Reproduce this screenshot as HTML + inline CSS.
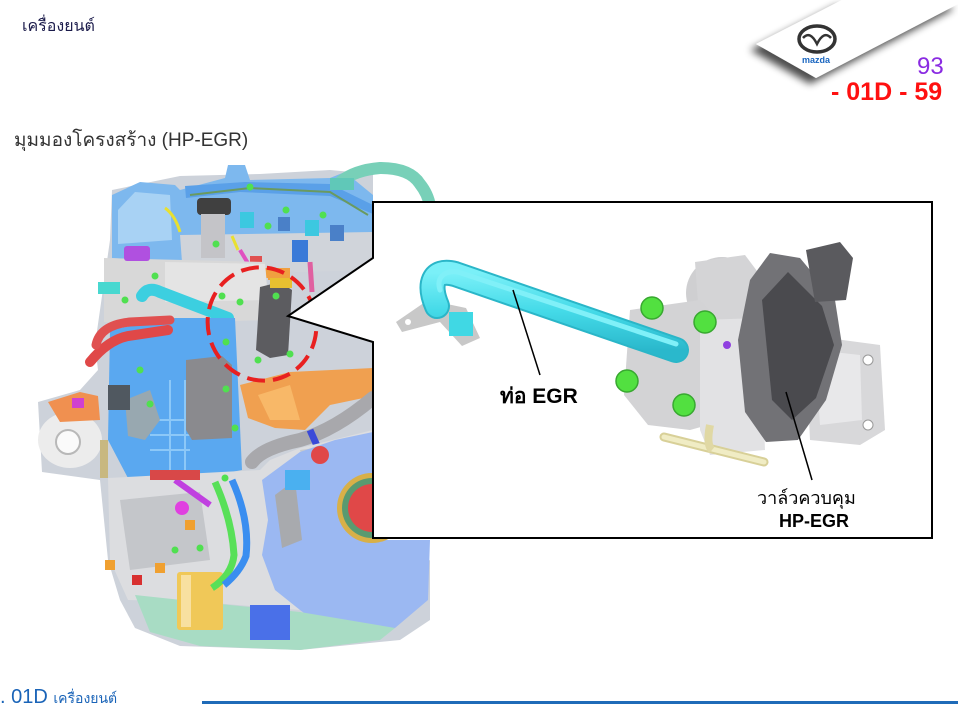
<!DOCTYPE html>
<html><head><meta charset="utf-8">
<style>
html,body{margin:0;padding:0;background:#fff;}
body{width:958px;height:720px;position:relative;overflow:hidden;font-family:"Liberation Sans","DejaVu Sans",sans-serif;}
.t{position:absolute;white-space:nowrap;}
</style></head><body>
<svg width="958" height="720" viewBox="0 0 958 720" xmlns="http://www.w3.org/2000/svg" style="position:absolute;left:0;top:0">
<defs>
<filter id="sh" x="-30%" y="-30%" width="160%" height="180%">
<feGaussianBlur in="SourceAlpha" stdDeviation="4"/>
<feOffset dx="-6" dy="6" result="b"/>
<feComponentTransfer><feFuncA type="linear" slope="0.7"/></feComponentTransfer>
<feMerge><feMergeNode/><feMergeNode in="SourceGraphic"/></feMerge>
</filter>
<linearGradient id="pipeG" x1="0" y1="0" x2="0" y2="1">
<stop offset="0" stop-color="#7af0f8"/><stop offset="0.5" stop-color="#44dae8"/><stop offset="1" stop-color="#2ab8cc"/>
</linearGradient>
</defs>

<!-- Mazda tab -->
<polygon points="756,44 842,0 958,0 958,4 816,78" fill="#fff" filter="url(#sh)"/>
<ellipse cx="817" cy="39" rx="18" ry="13" fill="none" stroke="#333" stroke-width="3.5"/>
<path d="M803 38 Q810 30 817 44 Q824 30 831 38" fill="none" stroke="#333" stroke-width="2.5"/>
<text x="816" y="63" font-size="9" font-weight="bold" fill="#1a66c0" text-anchor="middle" font-family="Liberation Sans,sans-serif">mazda</text>

<!-- ENGINE -->
<g>
<polygon points="112,190 180,176 260,174 330,170 373,174 373,600 430,560 430,620 400,640 300,650 180,646 135,628 120,600 108,560 100,480 42,472 38,402 80,390 98,370 95,345 104,282 110,240" fill="#cdd2da"/>
<!-- top blue area -->
<polygon points="112,195 140,182 175,185 180,190 225,178 228,165 245,165 250,180 330,178 345,172 373,195 373,250 180,262 112,258" fill="#7db8ee"/>
<polygon points="118,210 135,192 170,195 172,240 118,244" fill="#a8d2f4"/>
<polygon points="185,186 245,182 330,184 373,205 373,214 330,196 240,192 186,198" fill="#5aa0e8"/>
<path d="M190 195 L250 188 L330 192 L368 215" stroke="#6a9a60" stroke-width="2" fill="none"/>
<polygon points="180,235 373,232 373,270 300,272 240,268 182,262" fill="#d0d4da"/>
<rect x="197" y="198" width="34" height="17" rx="4" fill="#404040"/>
<rect x="201" y="214" width="24" height="44" fill="#c4c4c8"/>
<rect x="240" y="212" width="14" height="16" fill="#3cc8e0"/>
<rect x="278" y="217" width="12" height="14" fill="#4a80c8"/>
<rect x="305" y="220" width="14" height="16" fill="#3cc8e0"/>
<rect x="330" y="225" width="14" height="16" fill="#4a80c8"/>
<rect x="292" y="240" width="16" height="22" fill="#3a7ad8"/>
<path d="M165 208 Q175 215 180 232" stroke="#e8e030" stroke-width="3" fill="none"/>
<path d="M232 236 L238 250" stroke="#e8e030" stroke-width="3" fill="none"/>
<path d="M240 250 L252 270" stroke="#e050c0" stroke-width="4"/>
<path d="M310 262 L312 292" stroke="#e060a0" stroke-width="5"/>
<rect x="250" y="256" width="12" height="10" fill="#e05050"/>
<rect x="268" y="268" width="22" height="12" fill="#f0a040"/>
<rect x="258" y="268" width="10" height="10" fill="#f0a040"/>
<!-- valve cover -->
<polygon points="104,258 265,262 270,320 200,322 140,326 104,322" fill="#d8d8d8"/>
<polygon points="165,262 265,264 268,300 165,302" fill="#e4e4e4"/>
<rect x="124" y="246" width="26" height="15" rx="3" fill="#b050e0"/>
<rect x="98" y="282" width="22" height="12" fill="#48d8d0"/>
<!-- cyan pipe -->
<path d="M142 296 Q148 286 160 292 L228 318" stroke="#3ccfe0" stroke-width="12" fill="none" stroke-linecap="round"/>
<!-- blue body -->
<polygon points="110,330 175,318 235,318 242,470 200,478 130,482 108,440" fill="#5aa8f0"/>
<g stroke="#8cc8f8" stroke-width="2">
<line x1="150" y1="420" x2="190" y2="420"/><line x1="150" y1="435" x2="190" y2="435"/><line x1="150" y1="450" x2="190" y2="450"/>
<line x1="185" y1="380" x2="185" y2="470"/><line x1="170" y1="380" x2="170" y2="470"/>
</g>
<polygon points="125,400 150,390 160,420 145,440 128,436" fill="#98a8b0"/>
<rect x="108" y="385" width="22" height="25" fill="#505860"/>
<!-- red hoses -->
<path d="M90 362 Q108 340 128 336 L168 330" stroke="#e04848" stroke-width="10" fill="none" stroke-linecap="round"/>
<path d="M96 345 Q100 325 130 322 L170 320" stroke="#e05050" stroke-width="9" fill="none" stroke-linecap="round"/>
<!-- gray module -->
<polygon points="186,360 222,356 232,365 232,438 192,440 186,430" fill="#8a8a8e"/>
<!-- dark valve in circle -->
<polygon points="260,287 280,282 292,290 288,355 270,358 256,350" fill="#5c5c60"/>
<rect x="270" y="278" width="22" height="10" fill="#e8c030"/>
<!-- orange exhaust -->
<polygon points="240,385 290,372 373,368 373,396 330,405 305,430 275,428 248,418" fill="#f0a050"/>
<polygon points="258,395 290,385 300,420 270,420" fill="#f8b868"/>
<!-- gray pipe -->
<path d="M252 462 Q262 448 300 440 Q335 430 373 398" stroke="#a8a8ac" stroke-width="14" fill="none" stroke-linecap="round"/>
<path d="M310 430 L318 448" stroke="#3a4ad8" stroke-width="7"/>
<!-- lower block -->
<polygon points="108,478 260,470 270,460 300,448 373,430 373,600 300,610 200,602 128,600 110,560" fill="#dcdde0"/>
<polygon points="120,500 200,492 210,560 130,570" fill="#c4c6ca"/>
<polygon points="300,450 373,440 373,540 330,545" fill="#c8cacc"/>
<!-- blue plate -->
<polygon points="262,480 300,452 335,440 373,432 373,540 430,540 428,600 395,628 330,632 300,610 275,590 262,555 268,520" fill="#9bb8f2"/>
<polygon points="275,495 295,480 302,540 282,548" fill="#a8aaae"/>
<rect x="285" y="470" width="25" height="20" fill="#4ab0f0"/>
<!-- red pulley -->
<circle cx="372" cy="508" r="35" fill="#d8b048"/>
<circle cx="372" cy="508" r="30" fill="#5a9a70"/>
<circle cx="372" cy="508" r="24" fill="#e04848"/>
<circle cx="320" cy="455" r="9" fill="#e04848"/>
<!-- oil pan -->
<polygon points="135,595 200,602 300,612 395,628 380,640 300,650 200,646 150,632" fill="#a8dcc4"/>
<rect x="250" y="605" width="40" height="35" fill="#4a70e8"/>
<!-- oil filter -->
<rect x="177" y="572" width="46" height="58" rx="3" fill="#f0c858"/>
<rect x="181" y="575" width="10" height="52" fill="#f8e0a0"/>
<!-- hoses -->
<path d="M215 482 Q232 520 234 555 Q232 575 212 588" stroke="#58e058" stroke-width="7" fill="none"/>
<path d="M232 480 Q250 520 246 556 Q240 572 224 585" stroke="#3a8ef0" stroke-width="7" fill="none"/>
<path d="M175 480 L210 505" stroke="#c040e0" stroke-width="6"/>
<circle cx="182" cy="508" r="7" fill="#e040e0"/>
<!-- alternator -->
<ellipse cx="70" cy="440" rx="32" ry="28" fill="#ececec"/>
<circle cx="68" cy="442" r="12" fill="#fafafa" stroke="#b8b8b8" stroke-width="2"/>
<polygon points="48,402 80,392 98,396 100,420 60,422" fill="#f09050"/>
<rect x="72" y="398" width="12" height="10" fill="#d040d0"/>
<rect x="100" y="440" width="8" height="38" fill="#c8b880"/>
<!-- small orange/red bits -->
<rect x="105" y="560" width="10" height="10" fill="#f0a030"/>
<rect x="132" y="575" width="10" height="10" fill="#d83030"/>
<rect x="155" y="563" width="10" height="10" fill="#f0a030"/>
<rect x="185" y="520" width="10" height="10" fill="#f0a030"/>
<rect x="150" y="470" width="50" height="10" fill="#d84848"/>
<!-- teal pipe top right -->
<path d="M340 182 Q355 170 380 168 Q410 168 420 184 Q428 194 430 206" stroke="#78d0b8" stroke-width="12" fill="none"/>
<rect x="330" y="178" width="24" height="12" fill="#60c8b8"/>
<!-- green bolts -->
<g fill="#50e050">
<circle cx="155" cy="276" r="3.5"/><circle cx="125" cy="300" r="3.5"/><circle cx="222" cy="296" r="3.5"/>
<circle cx="240" cy="302" r="3.5"/><circle cx="226" cy="342" r="3.5"/><circle cx="140" cy="370" r="3.5"/>
<circle cx="150" cy="404" r="3.5"/><circle cx="226" cy="389" r="3.5"/><circle cx="235" cy="428" r="3.5"/>
<circle cx="258" cy="360" r="3.5"/><circle cx="290" cy="354" r="3.5"/><circle cx="276" cy="296" r="3.5"/>
<circle cx="216" cy="244" r="3.5"/><circle cx="268" cy="226" r="3.5"/><circle cx="225" cy="478" r="3.5"/>
<circle cx="175" cy="550" r="3.5"/><circle cx="200" cy="548" r="3.5"/><circle cx="250" cy="187" r="3.5"/>
<circle cx="286" cy="210" r="3.5"/><circle cx="323" cy="215" r="3.5"/>
</g>
<!-- red dashed circle -->
<ellipse cx="262" cy="324" rx="54" ry="57" fill="none" stroke="#e82020" stroke-width="4" stroke-dasharray="18 8" transform="rotate(-20 262 324)"/>
</g>

<!-- CALLOUT BOX -->
<polygon points="373,202 932,202 932,538 373,538 373,342 288,316 373,258" fill="#fff" stroke="#000" stroke-width="2"/>

<!-- detail: bracket & stub -->
<polygon points="396,322 428,300 466,308 480,338 462,346 440,322 402,332" fill="#c8c8c8"/>
<rect x="449" y="312" width="24" height="24" fill="#40d8e4"/>
<circle cx="408" cy="322" r="3" fill="#fff"/>
<!-- valve housing -->
<ellipse cx="722" cy="293" rx="36" ry="36" fill="#cfcfd1"/>
<polygon points="695,262 745,255 760,275 758,330 700,330" fill="#d4d4d6"/>
<polygon points="630,310 700,300 724,325 726,420 690,430 648,425 624,395" fill="#d3d3d5"/>
<polygon points="700,320 760,318 765,450 710,455 700,430" fill="#e2e2e4"/>
<polygon points="805,335 880,345 885,430 860,445 810,440" fill="#d8d8da"/>
<polygon points="815,350 860,355 862,420 820,425" fill="#e8e8ea"/>
<circle cx="868" cy="360" r="5" fill="#fff" stroke="#999"/>
<circle cx="868" cy="425" r="5" fill="#fff" stroke="#999"/>
<polygon points="770,253 800,258 835,300 842,345 826,400 798,440 766,442 745,412 738,340 750,280" fill="#727276"/>
<polygon points="788,272 822,306 834,345 816,398 792,420 772,400 762,300" fill="#4a4a4e"/>
<polygon points="806,250 840,242 853,258 846,300 815,302" fill="#5a5a5e"/>
<!-- pipe -->
<path d="M437 306 C428 285 432 268 455 274 L676 350" stroke="#2ab6c8" stroke-width="26" fill="none" stroke-linecap="round" stroke-linejoin="round"/>
<path d="M437 306 C428 285 432 268 455 274 L676 350" stroke="url(#pipeG)" stroke-width="22" fill="none" stroke-linecap="round" stroke-linejoin="round"/>
<path d="M440 290 C436 278 444 270 458 272 L676 344" stroke="#80f0f8" stroke-width="5" fill="none" stroke-linecap="round"/>
<!-- bolts -->
<g fill="#52e040" stroke="#38a830" stroke-width="1.5">
<circle cx="652" cy="308" r="11"/><circle cx="705" cy="322" r="11"/>
<circle cx="627" cy="381" r="11"/><circle cx="684" cy="405" r="11"/>
</g>
<circle cx="727" cy="345" r="4" fill="#9040e0"/>
<!-- brass tube -->
<path d="M664 437 L764 462" stroke="#d8d098" stroke-width="9" fill="none" stroke-linecap="round"/>
<path d="M664 437 L764 462" stroke="#f0ecc4" stroke-width="5" fill="none" stroke-linecap="round"/>
<path d="M710 425 Q706 445 712 450" stroke="#e0d8a4" stroke-width="8" fill="none"/>
<!-- leader lines -->
<line x1="513" y1="290" x2="540" y2="375" stroke="#000" stroke-width="1.5"/>
<line x1="786" y1="392" x2="812" y2="480" stroke="#000" stroke-width="1.5"/>
</svg>

<div class="t" style="left:22px;top:14px;font-size:16px;color:#1a1a4a;">เครื่องยนต์</div>
<div class="t" style="left:14px;top:125px;font-size:19px;color:#333;">มุมมองโครงสร้าง (HP-EGR)</div>
<div class="t" style="left:917px;top:53px;font-size:24px;color:#8a2be2;">93</div>
<div class="t" style="left:831px;top:78px;font-size:25px;font-weight:bold;color:#ff1010;">- 01D - 59</div>
<div class="t" style="left:500px;top:380px;font-size:21px;font-weight:bold;color:#000;">ท่อ EGR</div>
<div class="t" style="left:757px;top:483px;font-size:18px;color:#000;">วาล์วควบคุม</div>
<div class="t" style="left:779px;top:511px;font-size:18px;font-weight:bold;color:#000;">HP-EGR</div>
<div class="t" style="left:0px;top:686px;font-size:20px;color:#1a64b8;">. 01D <span style="font-size:14px">เครื่องยนต์</span></div>
<div style="position:absolute;left:202px;top:701px;width:756px;height:3px;background:#1f6bb8;"></div>
</body></html>
